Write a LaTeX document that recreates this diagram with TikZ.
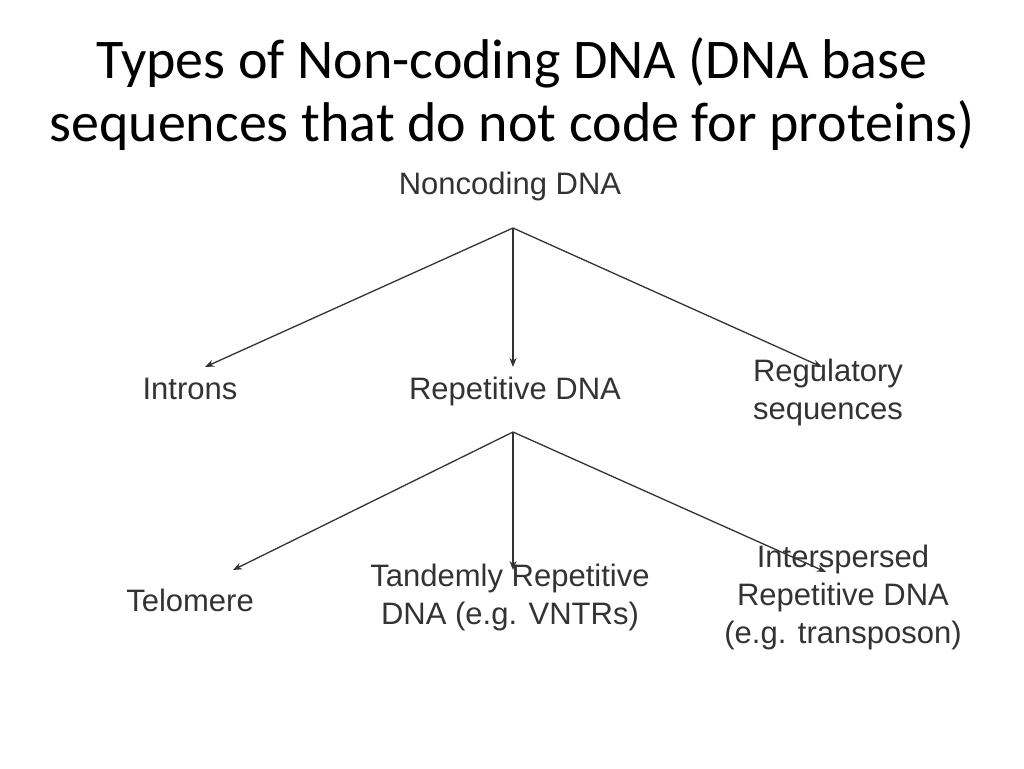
\documentclass[tikz,border=0pt]{standalone}
\usepackage{fontspec}
\setmainfont{Liberation Sans}
\newfontfamily\titlefont{Carlito}
\usetikzlibrary{arrows.meta}
\begin{document}
\begin{tikzpicture}[x=1pt,y=-1pt]
\tikzset{
  lbl/.style={font=\fontsize{31}{38}\selectfont, text=black!80, align=center, inner sep=2pt,
    text height=0.75em, text depth=0.22em},
  arr/.style={-{Stealth[length=9pt,width=7pt]}, line width=1.3pt, black!80}
}
\useasboundingbox (0,0) rectangle (1024,768);
%title
\node [font=\titlefont\fontsize{56}{63}\selectfont, align=center] (title) at (512,94)
  {Types of Non-coding DNA (DNA base\\sequences that do not code for proteins)};
%tree nodes
\node [lbl] (root) at (510,192) {Noncoding DNA};
\node [lbl] (intr) at (190,397) {Introns};
\node [lbl] (rep) at (515,397) {Repetitive DNA};
\node [lbl] (reg) at (828,417) {Regulatory\\sequences};
\node [lbl] (telo) at (190,609) {Telomere};
\node [lbl] (tand) at (510,622) {Tandemly Repetitive\\DNA (e.g. VNTRs)};
\node [lbl] (inter) at (843,641) {Interspersed\\Repetitive DNA\\(e.g. transposon)};
%split points and arrow ends
\coordinate (s1) at (513,228);
\coordinate (s2) at (513,432);
\coordinate (e1) at (205,367);
\coordinate (e2) at (513,367);
\coordinate (e3) at (822,367);
\coordinate (e4) at (233,570);
\coordinate (e5) at (513,570);
\coordinate (e6) at (826,572);
%connectors
\draw [arr] (s1) -- (e1);
\draw [arr] (s1) -- (e2);
\draw [arr] (s1) -- (e3);
\draw [arr] (s2) -- (e4);
\draw [arr] (s2) -- (e5);
\draw [arr] (s2) -- (e6);
\end{tikzpicture}
\end{document}
